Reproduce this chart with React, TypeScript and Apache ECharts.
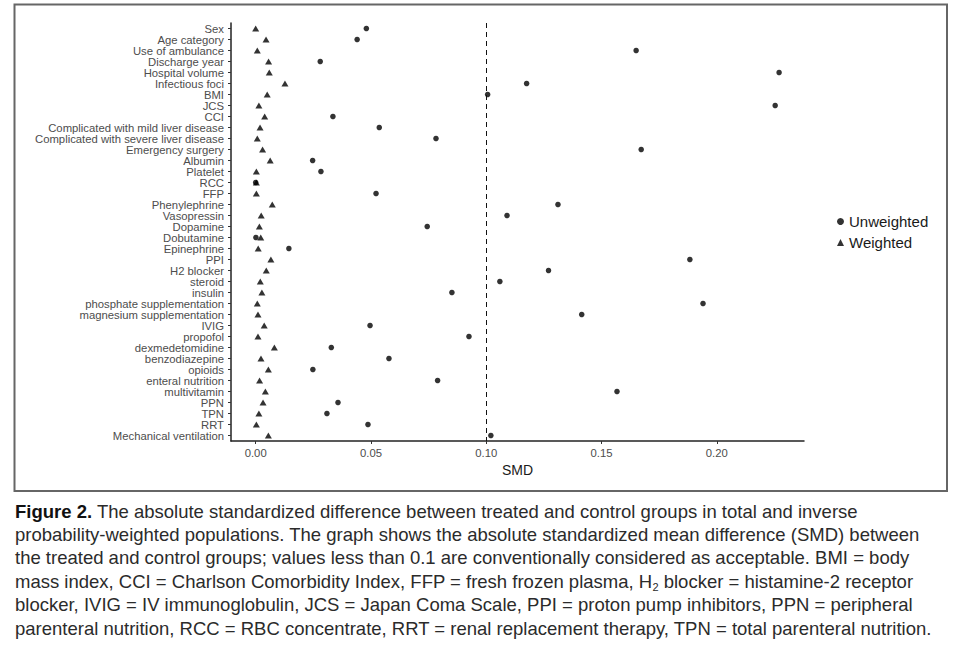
import React, { useEffect, useRef } from "react";
import * as echarts from "echarts";

const categories = [
  "Sex", "Age category", "Use of ambulance", "Discharge year", "Hospital volume",
  "Infectious foci", "BMI", "JCS", "CCI", "Complicated with mild liver disease",
  "Complicated with severe liver disease", "Emergency surgery", "Albumin", "Platelet",
  "RCC", "FFP", "Phenylephrine", "Vasopressin", "Dopamine", "Dobutamine", "Epinephrine",
  "PPI", "H2 blocker", "steroid", "insulin", "phosphate supplementation",
  "magnesium supplementation", "IVIG", "propofol", "dexmedetomidine", "benzodiazepine",
  "opioids", "enteral nutrition", "multivitamin", "PPN", "TPN", "RRT", "Mechanical ventilation",
];

const unweighted = [
  0.048, 0.044, 0.165, 0.028, 0.227, 0.1175, 0.1006, 0.2253, 0.0335, 0.0536,
  0.0782, 0.1672, 0.0247, 0.0283, 0.0, 0.0522, 0.1311, 0.109, 0.0744, 0.0001,
  0.0144, 0.1883, 0.127, 0.1059, 0.0851, 0.194, 0.1414, 0.0496, 0.0925, 0.0328,
  0.0578, 0.0248, 0.0789, 0.1567, 0.0357, 0.0309, 0.0487, 0.102,
];

const weighted = [
  0.0, 0.0045, 0.0007, 0.0056, 0.0059, 0.0127, 0.005, 0.0014, 0.0039, 0.0019,
  0.0007, 0.003, 0.0063, 0.0003, 0.0003, 0.0003, 0.0072, 0.0024, 0.0016, 0.0022,
  0.0011, 0.0066, 0.0046, 0.002, 0.0027, 0.0007, 0.001, 0.0037, 0.001, 0.0081,
  0.0023, 0.0055, 0.0017, 0.0042, 0.0032, 0.0014, 0.0003, 0.0055,
];

const xTicks = [0, 0.05, 0.1, 0.15, 0.2];
const threshold = 0.1;

const captionLines = [
  "{b|Figure 2.} The absolute standardized difference between treated and control groups in total and inverse",
  "probability-weighted populations. The graph shows the absolute standardized mean difference (SMD) between",
  "the treated and control groups; values less than 0.1 are conventionally considered as acceptable. BMI = body",
  "mass index, CCI = Charlson Comorbidity Index, FFP = fresh frozen plasma, H{s|2} blocker = histamine-2 receptor",
  "blocker, IVIG = IV immunoglobulin, JCS = Japan Coma Scale, PPI = proton pump inhibitors, PPN = peripheral",
  "parenteral nutrition, RCC = RBC concentrate, RRT = renal replacement therapy, TPN = total parenteral nutrition.",
];

const FONT = "'Liberation Sans', Arial, Helvetica, sans-serif";
const CAP = 18.5;

export default function App() {
  const ref = useRef<HTMLDivElement>(null);
  useEffect(() => {
    if (!ref.current) return;
    const chart = echarts.init(ref.current, null, { renderer: "svg" });
    const captionGraphics = captionLines.map((line, i) => ({
      type: "text",
      x: 15,
      y: 500 + i * 23.4,
      silent: true,
      style: {
        text: line,
        fontFamily: FONT,
        fontSize: CAP,
        lineHeight: 22,
        fill: "#2b2b2b",
        verticalAlign: "top",
        rich: {
          b: { fontFamily: FONT, fontSize: CAP, fontWeight: "bold", fill: "#111", lineHeight: 22 },
          s: { fontFamily: FONT, fontSize: 11, fill: "#2b2b2b", verticalAlign: "bottom", lineHeight: 11 },
        },
      },
    }));
    chart.setOption({
      animation: false,
      backgroundColor: "#ffffff",
      textStyle: { fontFamily: FONT },
      grid: { left: 231, top: 23, width: 573, height: 418, containLabel: false },
      legend: {
        orient: "vertical",
        left: 832,
        top: 209,
        itemWidth: 7,
        itemHeight: 7,
        itemGap: 6,
        textStyle: { fontFamily: FONT, fontSize: 15, color: "#1a1a1a", lineHeight: 15 },
        data: [
          { name: "Unweighted", icon: "circle", itemStyle: { color: "#000" } },
          { name: "Weighted", icon: "triangle", itemStyle: { color: "#000" } },
        ],
      },
      xAxis: {
        type: "value",
        min: -0.0107,
        max: 0.2378,
        name: "SMD",
        nameLocation: "middle",
        nameGap: 20,
        nameTextStyle: { fontFamily: FONT, fontSize: 14, color: "#1a1a1a", verticalAlign: "top" },
        splitLine: { show: false },
        axisLine: { show: true, onZero: false, lineStyle: { color: "#222", width: 1.5 } },
        axisTick: { show: true, length: 3, customValues: xTicks, lineStyle: { color: "#333" } },
        axisLabel: {
          customValues: xTicks,
          formatter: (v: number) => v.toFixed(2),
          fontFamily: FONT,
          fontSize: 11.3,
          color: "#4d4d4d",
          margin: 6,
        },
      },
      yAxis: {
        type: "category",
        data: categories,
        inverse: true,
        boundaryGap: true,
        axisLine: { show: true, onZero: false, lineStyle: { color: "#222", width: 1.5 } },
        axisTick: { show: true, length: 3, alignWithLabel: true, lineStyle: { color: "#333" } },
        axisLabel: { fontFamily: FONT, fontSize: 11.3, color: "#4d4d4d", margin: 7, interval: 0 },
        splitLine: { show: false },
      },
      series: [
        {
          name: "Unweighted",
          type: "scatter",
          symbol: "circle",
          symbolSize: 5.5,
          itemStyle: { color: "#000" },
          data: unweighted.map((v, i) => [v, categories[i]]),
          markLine: {
            silent: true,
            symbol: ["none", "none"],
            label: { show: false },
            lineStyle: { type: [5, 4], color: "#111", width: 1 },
            data: [{ xAxis: threshold }],
          },
        },
        {
          name: "Weighted",
          type: "scatter",
          symbol: "triangle",
          symbolSize: [7, 6],
          itemStyle: { color: "#000" },
          data: weighted.map((v, i) => [v, categories[i]]),
        },
      ],
      graphic: [
        {
          type: "rect",
          silent: true,
          shape: { x: 14.5, y: 4.5, width: 932.5, height: 486.5 },
          style: { fill: "none", stroke: "#666", lineWidth: 2 },
        },
        ...captionGraphics,
      ],
    });
    return () => chart.dispose();
  }, []);
  return (
    <div
      ref={ref}
      style={{ position: "absolute", left: 0, top: 0, width: 966, height: 651, background: "#fff" }}
    />
  );
}
